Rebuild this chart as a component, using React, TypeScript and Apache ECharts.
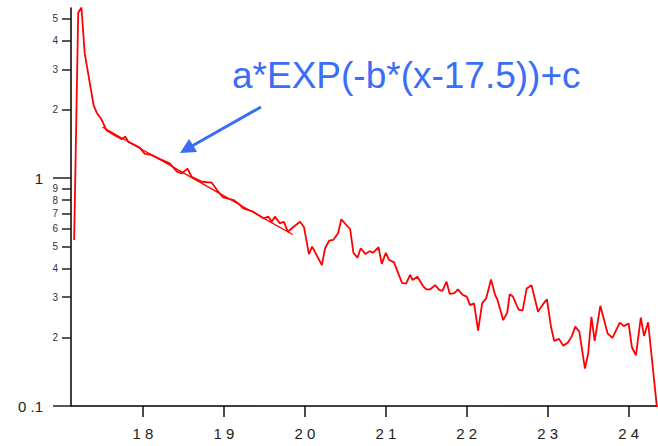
import React, { useEffect, useRef } from "react";
import * as echarts from "echarts";

const dataX = [
  17.15, 17.2, 17.24, 17.28, 17.39, 17.43, 17.49, 17.55, 17.65, 17.74, 17.78, 17.82, 17.96, 18.02, 18.11,
  18.21, 18.33, 18.42, 18.48, 18.55, 18.6, 18.73, 18.85, 18.93, 18.99, 19.12, 19.2, 19.24, 19.36, 19.49,
  19.55, 19.59, 19.63, 19.69, 19.74, 19.79, 19.84, 19.94, 19.99, 20.05, 20.09, 20.21, 20.25, 20.3, 20.35,
  20.41, 20.45, 20.56, 20.6, 20.65, 20.69, 20.75, 20.8, 20.84, 20.91, 20.95, 21.0, 21.04, 21.1, 21.2,
  21.25, 21.3, 21.33, 21.39, 21.46, 21.5, 21.55, 21.61, 21.66, 21.7, 21.75, 21.79, 21.85, 21.89, 21.95,
  22.0, 22.04, 22.09, 22.14, 22.19, 22.24, 22.3, 22.35, 22.38, 22.45, 22.5, 22.53, 22.57, 22.64, 22.69,
  22.74, 22.8, 22.88, 22.95, 22.99, 23.04, 23.08, 23.14, 23.19, 23.25, 23.3, 23.34, 23.39, 23.46, 23.5,
  23.54, 23.58, 23.65, 23.74, 23.8, 23.89, 23.94, 24.0, 24.04, 24.09, 24.15, 24.19, 24.24, 24.35,
];
const dataY = [
  0.535, 5.31, 5.6, 3.53, 2.09, 1.93, 1.8, 1.62, 1.54, 1.48, 1.52, 1.44, 1.36, 1.28, 1.26,
  1.21, 1.16, 1.066, 1.048, 1.1, 1.013, 0.963, 0.954, 0.871, 0.823, 0.801, 0.761, 0.736, 0.712, 0.666,
  0.677, 0.643, 0.677, 0.633, 0.643, 0.581, 0.602, 0.643, 0.608, 0.464, 0.5, 0.415, 0.492, 0.531, 0.535,
  0.572, 0.659, 0.596, 0.47, 0.447, 0.492, 0.464, 0.478, 0.47, 0.497, 0.42, 0.47, 0.437, 0.428, 0.347,
  0.344, 0.376, 0.357, 0.369, 0.336, 0.325, 0.325, 0.339, 0.323, 0.32, 0.351, 0.31, 0.313, 0.325, 0.307,
  0.302, 0.277, 0.282, 0.214, 0.282, 0.297, 0.359, 0.307, 0.292, 0.238, 0.257, 0.309, 0.302, 0.265, 0.262,
  0.328, 0.339, 0.259, 0.282, 0.294, 0.223, 0.193, 0.197, 0.184, 0.19, 0.203, 0.223, 0.212, 0.146, 0.17,
  0.246, 0.193, 0.275, 0.208, 0.199, 0.232, 0.224, 0.23, 0.181, 0.167, 0.244, 0.203, 0.233, 0.098,
];

// Fit curve points
const fitX = [17.5, 18.0, 18.5, 19.0, 19.5, 19.85];
const fitY = [1.674, 1.328, 1.054, 0.835, 0.664, 0.565];

const xTicks = [18, 19, 20, 21, 22, 23, 24];
const yMinorTicks = [0.2, 0.3, 0.4, 0.5, 0.6, 0.7, 0.8, 0.9, 2, 3, 4, 5];
const yMajorTicks = [0.1, 1];
const annotationText = "a*EXP(-b*(x-17.5))+c";

const FONT = "'Liberation Sans', Arial, sans-serif";
const BLUE = "#3b6ef5";

export default function App() {
  const ref = useRef<HTMLDivElement>(null);

  useEffect(() => {
    const chart = echarts.init(ref.current!, undefined, {
      renderer: "svg",
      width: 658,
      height: 446,
    });

    const yBase: any = {
      type: "log",
      logBase: 10,
      min: 0.1,
      max: 5.57,
      position: "left",
      splitLine: { show: false },
      minorTick: { show: false },
    };

    chart.setOption({
      animation: false,
      grid: { left: 71, right: 1, top: 8, bottom: 40, containLabel: false },
      xAxis: {
        type: "value",
        min: 17.111,
        max: 24.35,
        splitLine: { show: false },
        axisLine: { show: true, lineStyle: { color: "#000", width: 1.5 } },
        axisTick: {
          show: true,
          customValues: xTicks,
          length: 11,
          lineStyle: { color: "#111", width: 1.5 },
        },
        axisLabel: {
          customValues: xTicks,
          formatter: (v: number) => String(Math.round(v)).split("").join(" "),
          fontSize: 15,
          margin: 20,
          color: "#222",
          fontFamily: FONT,
        },
      },
      yAxis: [
        {
          ...yBase,
          axisLine: { show: true, lineStyle: { color: "#000", width: 1.5 } },
          axisTick: {
            show: true,
            customValues: yMinorTicks,
            length: 9,
            lineStyle: { color: "#222", width: 1.5 },
          },
          axisLabel: {
            customValues: yMinorTicks,
            formatter: (v: number) =>
              v < 1 ? String(Math.round(v * 10)) : String(Math.round(v)),
            fontSize: 10,
            margin: 13,
            color: "#333",
            fontFamily: FONT,
          },
        },
        {
          ...yBase,
          axisLine: { show: false },
          axisTick: {
            show: true,
            customValues: yMajorTicks,
            length: 18,
            lineStyle: { color: "#222", width: 1.5 },
          },
          axisLabel: {
            customValues: yMajorTicks,
            formatter: (v: number) => (v < 0.5 ? "0 .1" : "1"),
            fontSize: 15,
            margin: 28,
            color: "#222",
            fontFamily: FONT,
          },
        },
      ],
      series: [
        {
          type: "line",
          data: dataX.map((x, i) => [x, dataY[i]]),
          showSymbol: false,
          lineStyle: { color: "#ff0000", width: 1.8 },
          itemStyle: { color: "#ff0000" },
          clip: true,
        },
        {
          type: "line",
          data: fitX.map((x, i) => [x, fitY[i]]),
          showSymbol: false,
          smooth: true,
          lineStyle: { color: "#ff0000", width: 1.3 },
          itemStyle: { color: "#ff0000" },
          clip: true,
        },
      ],
      graphic: [
        {
          type: "text",
          x: 232,
          y: 75,
          style: {
            text: annotationText,
            fill: BLUE,
            fontSize: 37,
            fontFamily: FONT,
            verticalAlign: "middle",
            align: "left",
          },
        },
        {
          type: "line",
          shape: { x1: 261, y1: 107, x2: 192, y2: 146 },
          style: { stroke: BLUE, lineWidth: 3 },
        },
        {
          type: "polygon",
          shape: {
            points: [
              [180, 153],
              [189, 139],
              [193, 145],
              [197, 152],
            ],
          },
          style: { fill: BLUE },
        },
      ],
    });

    return () => chart.dispose();
  }, []);

  return (
    <div
      ref={ref}
      style={{ position: "fixed", left: 0, top: 0, width: 658, height: 446, background: "#fff" }}
    />
  );
}
